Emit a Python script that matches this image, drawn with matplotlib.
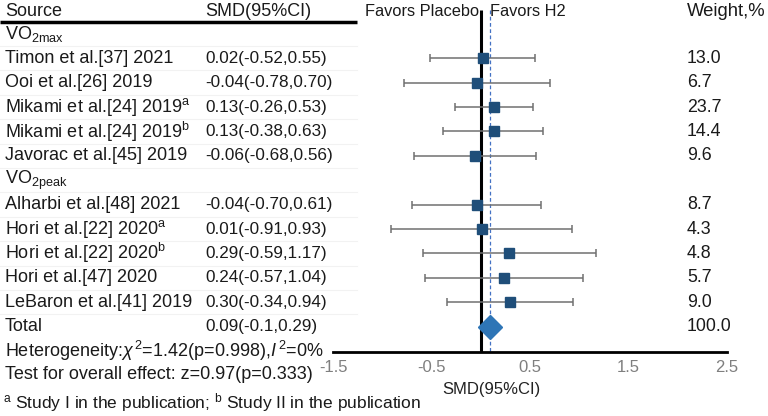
import matplotlib
matplotlib.use("Agg")
import matplotlib.pyplot as plt
import matplotlib.transforms as mtransforms

plt.rcParams["font.family"] = ["Liberation Sans", "DejaVu Sans"]
plt.rcParams["mathtext.fontset"] = "custom"
plt.rcParams["mathtext.rm"] = "Liberation Sans"
plt.rcParams["mathtext.it"] = "Liberation Sans:italic"

# table rows (None = group header)
labels = ["VO$_{\\mathregular{2max}}$",
          "Timon et al.[37] 2021", "Ooi et al.[26] 2019",
          "Mikami et al.[24] 2019$^{\\mathregular{a}}$",
          "Mikami et al.[24] 2019$^{\\mathregular{b}}$",
          "Javorac et al.[45] 2019",
          "VO$_{\\mathregular{2peak}}$",
          "Alharbi et al.[48] 2021", "Hori et al.[22] 2020$^{\\mathregular{a}}$",
          "Hori et al.[22] 2020$^{\\mathregular{b}}$", "Hori et al.[47] 2020",
          "LeBaron et al.[41] 2019"]
smd = [None, 0.02, -0.04, 0.13, 0.13, -0.06, None, -0.04, 0.01, 0.29, 0.24, 0.30]
lo = [None, -0.52, -0.78, -0.26, -0.38, -0.68, None, -0.70, -0.91, -0.59, -0.57, -0.34]
hi = [None, 0.55, 0.70, 0.53, 0.63, 0.56, None, 0.61, 0.93, 1.17, 1.04, 0.94]
weights = [None, 13.0, 6.7, 23.7, 14.4, 9.6, None, 8.7, 4.3, 4.8, 5.7, 9.0]

total_smd, total_lo, total_hi, total_w = 0.09, -0.1, 0.29, 100.0
het_text = "Heterogeneity:$\\chi^{\\,2}$=1.42(p=0.998),$\\mathit{I}^{\\,2}$=0%"
test_text = "Test for overall effect: z=0.97(p=0.333)"
foot_text = ("$^{\\mathregular{a}}$ Study I in the publication; "
             "$^{\\mathregular{b}}$ Study II in the publication")
xticks = [-1.5, -0.5, 0.5, 1.5, 2.5]

W, H = 768, 416
fig = plt.figure(figsize=(W / 100, H / 100), dpi=100)
ax = fig.add_axes([333 / W, 64 / H, 394 / W, 352 / H])
ax.set_xlim(-1.5, 2.5)
ax.set_ylim(14.04, -0.39)
for s in ["top", "left", "right"]:
    ax.spines[s].set_visible(False)
ax.spines["bottom"].set_linewidth(2)
ax.set_yticks([])
ax.set_xticks(xticks)
ax.set_xticklabels([f"{t:g}" for t in xticks])
ax.tick_params(axis="x", length=0, labelsize=12, labelcolor="#7f7f7f", pad=6)
ax.set_xlabel("SMD(95%CI)", fontsize=12, color="#222222")
ax.xaxis.set_label_coords((0.11 + 1.5) / 4.0, -0.085)

# reference lines
ax.vlines(0, 0.02, 14.04, color="black", lw=2.2, clip_on=False, zorder=2)
ax.vlines(total_smd, 0.02, 14.04, color="#4472c4", lw=0.9,
          linestyles=(0, (3, 2)), clip_on=False, zorder=2)

tr = mtransforms.blended_transform_factory(fig.transFigure, ax.transData)
fs = 13       # names / notes
fn = 12.3     # numbers
txt = "#1a1a1a"


def px(x):
    return x / W


# header
hy = 0.08
fig.text(px(5), hy, "Source", transform=tr, fontsize=fs, color=txt, va="center")
fig.text(px(205), hy, "SMD(95%CI)", transform=tr, fontsize=fs, color=txt, va="center")
fig.text(px(479), hy, "Favors Placebo", transform=tr, fontsize=11.8, color=txt,
         va="center", ha="right")
fig.text(px(490), hy, "Favors H2", transform=tr, fontsize=11.8, color=txt, va="center")
fig.text(px(687), hy, "Weight,%", transform=tr, fontsize=13.3, color=txt, va="center")
ax.plot([px(0), px(357)], [0.5, 0.5], transform=tr, color="black", lw=2.5,
        clip_on=False, solid_capstyle="butt")

rows = list(range(1, len(labels) + 1))
for r, lab, m, l, h, w in zip(rows, labels, smd, lo, hi, weights):
    fig.text(px(5), r, lab, transform=tr, fontsize=fs, color=txt, va="center")
    ax.plot([px(0), px(357)], [r + 0.5, r + 0.5], transform=tr, color="#f2f2f2",
            lw=0.8, clip_on=False, zorder=0)
    if m is None:
        continue
    fig.text(px(205), r, f"{m:.2f}({l:.2f},{h:.2f})", transform=tr, fontsize=fn,
             color=txt, va="center")
    fig.text(px(687), r, f"{w:.1f}", transform=tr, fontsize=12.8, color=txt,
             va="center")
    ax.errorbar(m, r, xerr=[[m - l], [h - m]], fmt="none", ecolor="#707070",
                elinewidth=1.1, capsize=3, capthick=1.1, zorder=3)
    ax.plot(m, r, marker="s", ms=7.8, color="#1f4e79", mec="#1f4e79", zorder=4)

# total
rt = len(labels) + 1
fig.text(px(5), rt, "Total", transform=tr, fontsize=fs, color=txt, va="center")
fig.text(px(205), rt, f"{total_smd:.2f}({total_lo:g},{total_hi:.2f})", transform=tr,
         fontsize=fn, color=txt, va="center")
fig.text(px(687), rt, f"{total_w:.1f}", transform=tr, fontsize=12.8, color=txt,
         va="center")
ax.plot(total_smd, rt, marker="D", ms=12, color="#2e75b6", mec="#2e75b6",
        zorder=5, clip_on=False)

fig.text(px(5), rt + 1, het_text, transform=tr, fontsize=fs, color=txt, va="center")
fig.text(px(5), rt + 1.95, test_text, transform=tr, fontsize=fs, color=txt,
         va="center")
fig.text(px(3), rt + 3.1, foot_text, transform=tr, fontsize=12.5, color=txt,
         va="center")

fig.savefig("out.png", dpi=100, facecolor="white")
